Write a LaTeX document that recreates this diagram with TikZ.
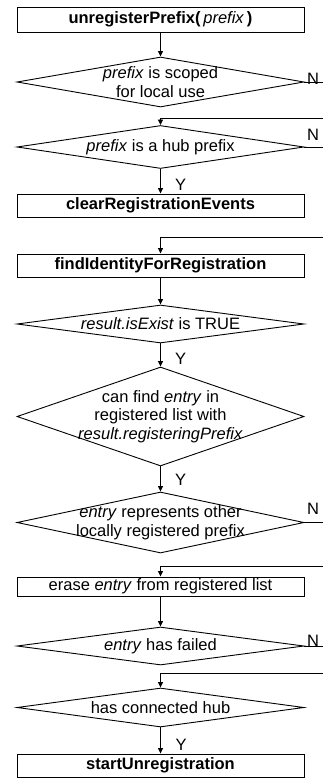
\documentclass[tikz,border=0pt]{standalone}
\usepackage{fontspec}
\setmainfont{Liberation Sans}
\usetikzlibrary{arrows.meta,calc,shapes.geometric}
\begin{document}
\begin{tikzpicture}[x=1pt,y=-1pt,
  every node/.style={font=\fontsize{16.5}{18.5}\selectfont},
  box/.style={draw, rectangle, minimum width=287pt, inner sep=0pt, line width=0.9pt},
  dia/.style={draw, diamond, minimum width=287pt, inner sep=0pt, line width=0.9pt},
  txt/.style={align=center, inner sep=0pt},
  lbl/.style={inner sep=0pt},
  ln/.style={line width=0.9pt},
  arr/.style={ln, -{Triangle[length=5.5pt,width=5pt]}}]
\useasboundingbox (0,0) rectangle (323,781);

\node[box, minimum height=25pt] (b1) at (160.5,19.5) {\textbf{unregisterPrefix(}\,\textit{prefix}\,\textbf{)}};
\node[dia, minimum height=50pt] (d1) at (160.5,82) {};
\node[txt] (t1) at (d1) {\textit{prefix} is scoped\\for local use};
\node[dia, minimum height=43pt] (d2) at (160.5,147) {};
\node[txt] (t2) at (d2) {\textit{prefix} is a hub prefix};
\node[box, minimum height=23pt] (b2) at (160.5,205.5) {\textbf{clearRegistrationEvents}};
\node[box, minimum height=23pt] (b3) at (160.5,265.5) {\textbf{findIdentityForRegistration}};
\node[dia, minimum height=38pt] (d3) at (160.5,324) {};
\node[txt] (t3) at (d3) {\textit{result.isExist} is TRUE};
\node[dia, minimum height=99pt] (d4) at (160.5,416.5) {};
\node[txt] (t4) at (d4) {can find \textit{entry} in\\registered list with\\\textit{result.registeringPrefix}};
\node[dia, minimum height=61pt] (d5) at (160.5,522.5) {};
\node[txt] (t5) at (d5) {\textit{entry} represents other\\locally registered prefix};
\node[box, minimum height=19pt] (b4) at (160.5,586.5) {erase \textit{entry} from registered list};
\node[dia, minimum height=38pt] (d6) at (160.5,646) {};
\node[txt] (t6) at (d6) {\textit{entry} has failed};
\node[dia, minimum height=39pt] (d7) at (160.5,707.5) {};
\node[txt] (t7) at (d7) {has connected hub};
\node[box, minimum height=23pt] (b5) at (160.5,765.5) {\textbf{startUnregistration}};

% main flow
\draw[arr] (b1) -- (d1);
\draw[arr] (d2) -- (b2);
\draw[arr] (b3) -- (d3);
\draw[arr] (d3) -- (d4);
\draw[arr] (d4) -- (d5);
\draw[arr] (b4) -- (d6);
\draw[arr] (d7) -- (b5);

% exits to the right
\coordinate (x1) at (323,82);
\coordinate (x2) at (323,147);
\coordinate (x5) at (323,522.5);
\coordinate (x6) at (323,646);
\draw[ln] (d1.east) -- (x1);
\draw[ln] (d2.east) -- (x2);
\draw[ln] (d5.east) -- (x5);
\draw[ln] (d6.east) -- (x6);

% returns from the right
\coordinate (r1) at (323,118);
\coordinate (r2) at (323,237);
\coordinate (r3) at (323,566);
\coordinate (r4) at (323,673);
\draw[arr] (r1) -| (d2.north);
\draw[arr] (r2) -| (b3.north);
\draw[arr] (r3) -| (b4.north);
\draw[arr] (r4) -| (d7.north);

% labels
\node[lbl] (n1) at (313,79) {N};
\node[lbl] (n2) at (313,135) {N};
\node[lbl] (n5) at (313,509) {N};
\node[lbl] (n6) at (313,641) {N};
\node[lbl] (y1) at (180.5,185) {Y};
\node[lbl] (y2) at (180.5,359) {Y};
\node[lbl] (y3) at (180.5,480) {Y};
\node[lbl] (y4) at (181,745) {Y};
\end{tikzpicture}
\end{document}
